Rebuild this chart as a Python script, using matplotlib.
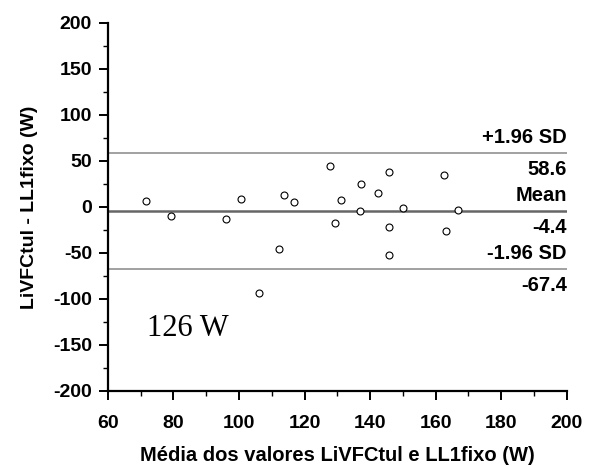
import matplotlib
matplotlib.use("Agg")
import matplotlib.pyplot as plt
from matplotlib.ticker import MultipleLocator

# mean of the two methods (W) and their difference (W)
media = [71.6, 79.4, 95.9, 100.5, 113.6, 116.9, 127.9, 131.0, 137.2, 142.4,
         136.9, 145.8, 150.0, 162.4, 166.8, 129.2, 145.8, 163.3, 112.2, 106.0, 145.8]
diferenca = [6.8, -9.5, -13.0, 8.3, 12.7, 5.4, 44.6, 7.3, 24.7, 15.5,
             -4.3, 38.4, -0.8, 35.1, -3.6, -17.0, -21.7, -25.8, -45.3, -93.2, -52.2]

limites = [58.6, -4.4, -67.4]
nomes = ["+1.96 SD", "Mean", "-1.96 SD"]

plt.rcParams['font.family'] = ['Liberation Sans', 'DejaVu Sans']
plt.rcParams['font.weight'] = 'bold'
plt.rcParams['axes.labelweight'] = 'bold'
plt.rcParams['axes.unicode_minus'] = False

fig = plt.figure(figsize=(5.96, 4.66), dpi=100)
ax = fig.add_axes([0.181, 0.161, 0.77, 0.79])

ax.plot(media, diferenca, 'o', mfc='white', mec='black', ms=5, mew=0.8, zorder=3)

for val, nome in zip(limites, nomes):
    if nome == "Mean":
        ax.axhline(val, color='#666666', lw=1.8, zorder=2)
    else:
        ax.axhline(val, color='#888888', lw=1.1, zorder=2)
    ax.annotate(nome, xy=(1.0, val), xycoords=('axes fraction', 'data'),
                xytext=(0, 4), textcoords='offset points',
                ha='right', va='bottom', fontsize=14.5)
    ax.annotate(f"{val:.1f}", xy=(1.0, val), xycoords=('axes fraction', 'data'),
                xytext=(0, -5), textcoords='offset points',
                ha='right', va='top', fontsize=14.5)

ax.text(72, -132, "126 W", family=['Liberation Serif', 'DejaVu Serif'],
        fontsize=22, fontweight='normal', va='center', ha='left')

ax.set_xlim(60, 200)
ax.set_ylim(-200, 200)
ax.xaxis.set_major_locator(MultipleLocator(20))
ax.xaxis.set_minor_locator(MultipleLocator(10))
ax.yaxis.set_major_locator(MultipleLocator(50))
ax.yaxis.set_minor_locator(MultipleLocator(25))

ax.spines['top'].set_visible(False)
ax.spines['right'].set_visible(False)
ax.spines['left'].set_linewidth(1.6)
ax.spines['bottom'].set_linewidth(1.6)
ax.tick_params(which='major', length=6.5, width=1.4, labelsize=14, direction='out')
ax.tick_params(which='minor', length=3.5, width=1.0, direction='out')
ax.tick_params(axis='x', which='major', pad=10.5)
ax.tick_params(axis='y', which='major', pad=5)

ax.set_xlabel("Média dos valores LiVFCtul e LL1fixo (W)", fontsize=14.5, labelpad=10.5)
ax.set_ylabel("LiVFCtul - LL1fixo (W)", fontsize=14, labelpad=11)

fig.savefig("out.png", dpi=100)
